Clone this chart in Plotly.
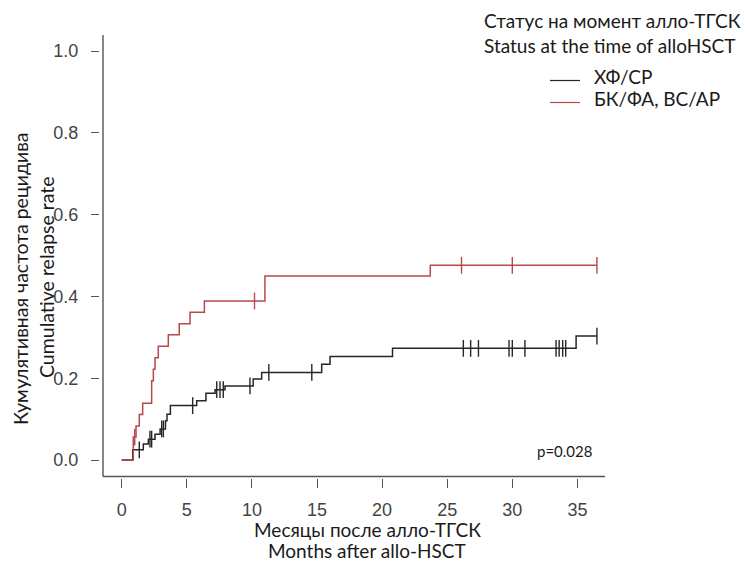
import numpy as np
import plotly.graph_objects as go

# ---------------- data ----------------
x_ticks = [0, 5, 10, 15, 20, 25, 30, 35]
y_ticks = [0.0, 0.2, 0.4, 0.6, 0.8, 1.0]
y_tick_labels = ["0.0", "0.2", "0.4", "0.6", "0.8", "1.0"]

cr_name = "ХФ/СР"
cr_times = [0, 0.85, 1.66, 2.05, 2.56, 2.95, 3.36, 3.48, 3.74, 5.76, 6.47, 7.17,
            7.93, 10.1, 10.75, 15.36, 16.0, 20.8, 34.9]
cr_values = [0, 0.025, 0.039, 0.051, 0.063, 0.076, 0.096, 0.112, 0.133, 0.145,
             0.163, 0.172, 0.181, 0.198, 0.214, 0.234, 0.253, 0.273, 0.303]
cr_end = 36.5
cr_censor = [1.35, 2.17, 2.3, 3.07, 3.2, 5.45, 7.3, 7.55, 7.8, 9.85, 11.3, 14.6,
             26.24, 26.8, 27.4, 29.75, 30.0, 30.97, 33.36, 33.6, 33.87, 34.1, 36.5]

ap_name = "БК/ФА, ВС/АР"
ap_times = [0, 0.89, 1.10, 1.35, 1.61, 2.30, 2.43, 2.56, 2.81, 3.58, 4.42, 5.25,
            6.35, 11.0, 23.7]
ap_values = [0, 0.056, 0.083, 0.111, 0.139, 0.194, 0.222, 0.25, 0.278, 0.306,
             0.333, 0.361, 0.389, 0.45, 0.476]
ap_end = 36.5
ap_censor = [1.0, 10.2, 26.1, 30.0, 36.5]

p_text = "p=0.028"
x_title = ["Месяцы после алло-ТГСК", "Months after allo-HSCT"]
y_title = ["Кумулятивная частота рецидива", "Cumulative relapse rate"]
legend_title = ["Статус на момент алло-ТГСК", "Status at the time of alloHSCT"]

# ---------------- styles ----------------
BLACK = "#262626"
RED = "#b8484a"
AXIS = "#555555"
TXT = "#1a1a1a"
SANS = "Liberation Sans, Arial, sans-serif"
CAL = "Lato, Open Sans, sans-serif"

W, H = 745, 562
L, R, T, B = 100, 135, 35, 84
PW, PH = W - L - R, H - T - B


def px_x(px):
    return (px - L) / PW


def px_y(py):
    return (H - B - py) / PH


def step_at(times, values, t):
    idx = np.searchsorted(np.asarray(times), t, side="right") - 1
    return np.asarray(values)[idx]


fig = go.Figure()

for name, times, values, end, cens, col in [
    (cr_name, cr_times, cr_values, cr_end, cr_censor, BLACK),
    (ap_name, ap_times, ap_values, ap_end, ap_censor, RED),
]:
    xs = list(times) + [end]
    ys = list(values) + [values[-1]]
    fig.add_trace(go.Scatter(x=xs, y=ys, mode="lines", line=dict(color=col, width=1.5, shape="hv"),
                             name=name, showlegend=False, hoverinfo="skip"))
    fig.add_trace(go.Scatter(x=cens, y=step_at(times, values, cens), mode="markers",
                             marker=dict(symbol="line-ns-open", size=12, color=col,
                                         line=dict(color=col, width=1.4)),
                             name=name, showlegend=False, hoverinfo="skip"))

# x / y scale mapping (pixel calibration of the reference)
x0_px, x_per = 121.7, 13.02
y0_px, y_per = 460.0, 409.0
x_range = [(L - x0_px) / x_per, (W - R - x0_px) / x_per]
y_range = [(y0_px - (H - B)) / y_per, (y0_px - T) / y_per]

fig.update_xaxes(range=x_range, tickvals=x_ticks, ticks="outside", ticklen=9, tickwidth=1.3,
                 tickcolor=AXIS, showline=False, showgrid=False, zeroline=False,
                 tickfont=dict(family=SANS, size=18, color="#444444"), ticklabelstandoff=6)
fig.update_yaxes(range=y_range, tickvals=y_ticks, ticktext=y_tick_labels, ticks="outside",
                 ticklen=8, tickwidth=1.3, tickcolor=AXIS, showline=False, showgrid=False,
                 zeroline=False, tickfont=dict(family=SANS, size=18, color="#444444"),
                 ticklabelstandoff=9)

# L-shaped box (R style bty="l")
bx = (103 - x0_px) / x_per
by = (y0_px - 476.5) / y_per
bx_end = (605 - x0_px) / x_per
fig.add_shape(type="line", xref="x", yref="y", x0=bx, x1=bx, y0=by, y1=y_range[1],
              line=dict(color=AXIS, width=1.4))
fig.add_shape(type="line", xref="x", yref="y", x0=bx, x1=bx_end, y0=by, y1=by,
              line=dict(color=AXIS, width=1.4))

ann = []
# x title
ann.append(dict(text=x_title[0], x=px_x(367), y=px_y(529), font=dict(family=CAL, size=19, color=TXT)))
ann.append(dict(text=x_title[1], x=px_x(367), y=px_y(550), font=dict(family=CAL, size=19, color=TXT)))
# y title
ann.append(dict(text=y_title[0], x=px_x(20), y=px_y(279), textangle=-90,
                font=dict(family=CAL, size=19.5, color=TXT)))
ann.append(dict(text=y_title[1], x=px_x(46), y=px_y(277), textangle=-90,
                font=dict(family=CAL, size=19.5, color=TXT)))
# legend title
ann.append(dict(text=legend_title[0], x=px_x(483), y=px_y(20), xanchor="left",
                font=dict(family=CAL, size=19, color=TXT)))
ann.append(dict(text=legend_title[1], x=px_x(483), y=px_y(46), xanchor="left",
                font=dict(family=CAL, size=19, color=TXT)))
# legend entries
for name, col, py in [(cr_name, BLACK, 80.5), (ap_name, RED, 102.5)]:
    fig.add_shape(type="line", xref="paper", yref="paper", x0=px_x(550), x1=px_x(580),
                  y0=px_y(py), y1=px_y(py), line=dict(color=col, width=1.2))
    ann.append(dict(text=name, x=px_x(593), y=px_y(py - 4), xanchor="left",
                    font=dict(family=CAL, size=19, color=TXT)))
# p-value
ann.append(dict(text=p_text, x=px_x(536), y=px_y(451), xanchor="left",
                font=dict(family=CAL, size=15, color=TXT)))

for a in ann:
    a.setdefault("xanchor", "center")
    a.update(xref="paper", yref="paper", yanchor="middle", showarrow=False, borderpad=0)
fig.update_layout(annotations=ann)

fig.update_layout(width=W, height=H, margin=dict(l=L, r=R, t=T, b=B, autoexpand=False),
                  plot_bgcolor="white", paper_bgcolor="white")

fig.write_html("out.html")
